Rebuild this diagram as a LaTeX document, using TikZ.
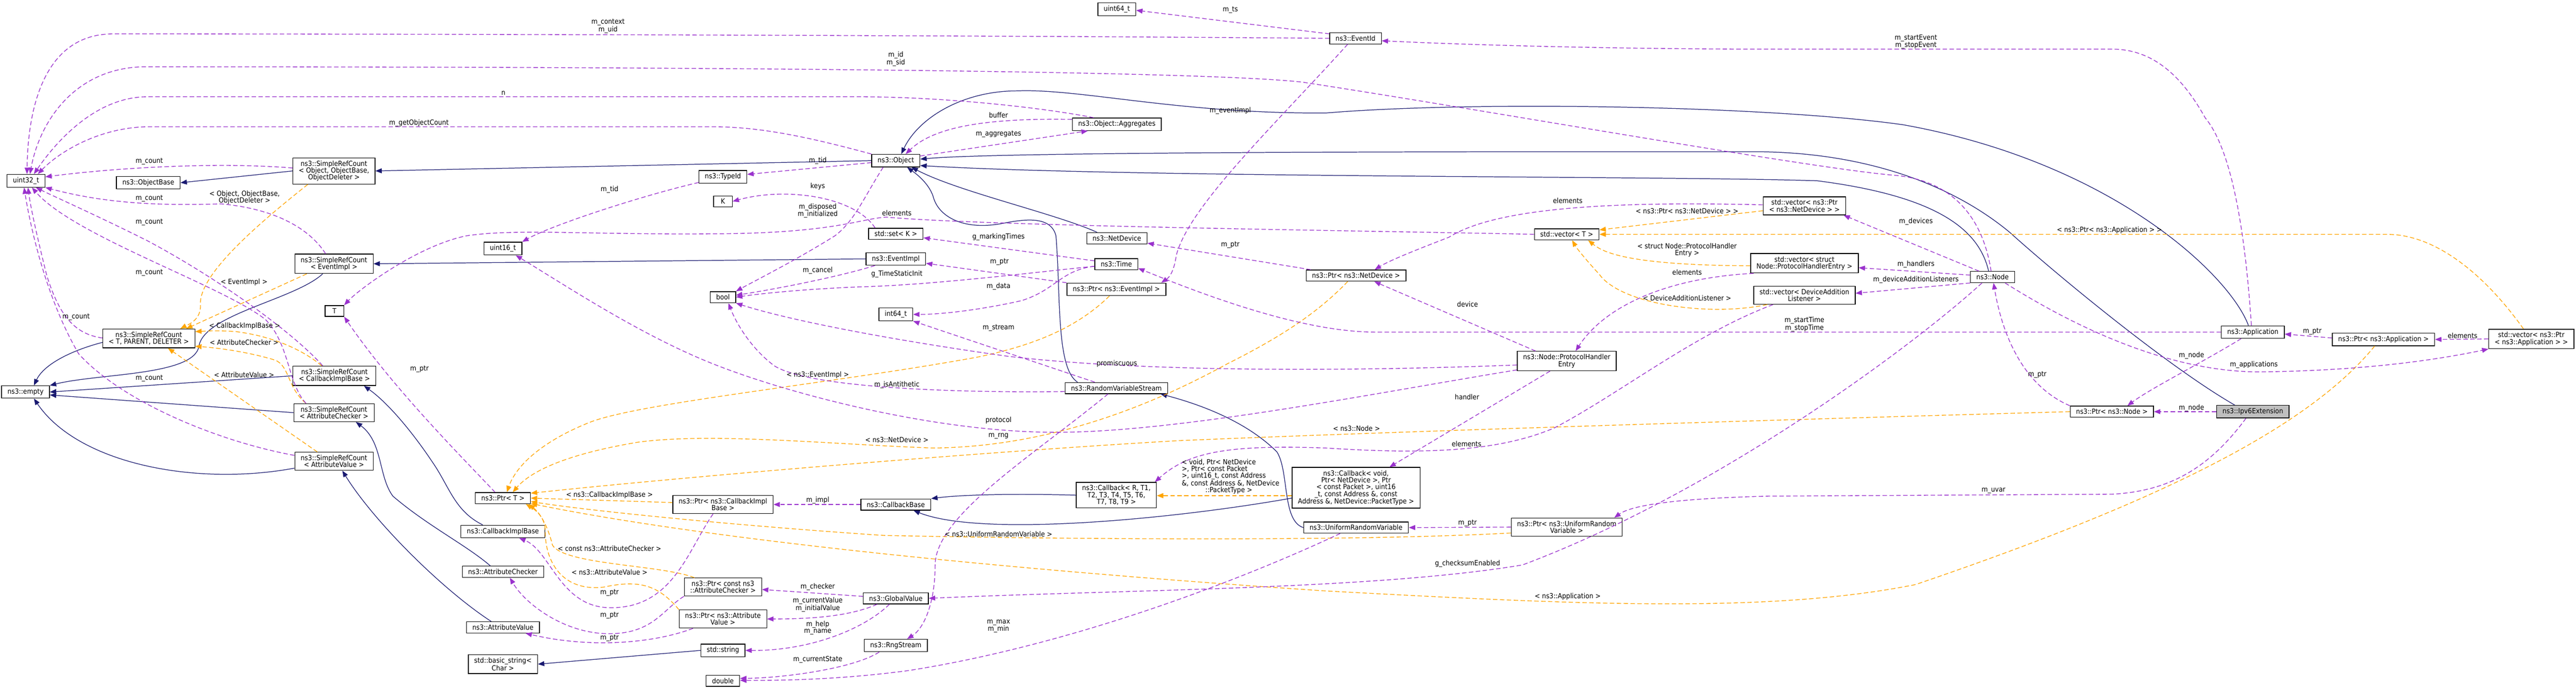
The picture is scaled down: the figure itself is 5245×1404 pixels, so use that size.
\documentclass[tikz,border=0pt]{standalone}
\usepackage{fontspec}
\setmainfont{DejaVu Sans Condensed}
\usepackage{tikz}
\usetikzlibrary{arrows.meta}
\usetikzlibrary{calc}
\definecolor{inhblue}{HTML}{191970}
\definecolor{usepurple}{HTML}{9A32CD}
\definecolor{tplorange}{HTML}{FFA500}
\definecolor{mainfill}{HTML}{BFBFBF}

\begin{document}
\begin{tikzpicture}[x=1pt,y=-1pt,font=\fontsize{14.4}{14}\selectfont]
		\tikzset{box/.style={shape=rectangle, draw=black, line width=1.4pt, fill=white, align=center, inner xsep=12pt, inner ysep=5.8pt, minimum width=38pt}}
		\tikzset{mainbox/.style={box, fill=mainfill}}
		\tikzset{lbl/.style={inner sep=0pt, align=center}}
		\tikzset{inh/.style={draw=inhblue, line width=1.3pt, -{Triangle[length=13pt,width=10pt]}}}
		\tikzset{use/.style={draw=usepurple, line width=1.4pt, dash pattern=on 9pt off 5pt, -{Triangle[length=13pt,width=10pt]}}}
		\tikzset{tpl/.style={draw=tplorange, line width=1.4pt, dash pattern=on 9pt off 5pt, -{Triangle[length=13pt,width=10pt]}}}
		\path[use as bounding box, fill=white] (0,0) rectangle (5245,1404);
		%classes
		\node[box] (u32) at (53,368) {uint32\_t};
		\node[box] (objbase) at (302,372) {ns3::ObjectBase};
		\node[box] (srcobj) at (680,348) {ns3::SimpleRefCount\\< Object, ObjectBase,\\ObjectDeleter >};
		\node[box] (srcev) at (680,537) {ns3::SimpleRefCount\\< EventImpl >};
		\node[box] (tT) at (681,633) {T};
		\node[box] (srctpd) at (303,689) {ns3::SimpleRefCount\\< T, PARENT, DELETER >};
		\node[box] (empty) at (52,798) {ns3::empty};
		\node[box] (srccb) at (681,765) {ns3::SimpleRefCount\\< CallbackImplBase >};
		\node[box] (srcac) at (680,840) {ns3::SimpleRefCount\\< AttributeChecker >};
		\node[box] (srcav) at (680,939) {ns3::SimpleRefCount\\< AttributeValue >};
		\node[box] (typeid) at (1472,360) {ns3::TypeId};
		\node[box] (kK) at (1472,410) {K};
		\node[box] (u16) at (1024,506) {uint16\_t};
		\node[box] (boolT) at (1472,605) {bool};
		\node[box] (ptrT) at (1024,1014) {ns3::Ptr< T >};
		\node[box] (cbimpl) at (1024,1082) {ns3::CallbackImplBase};
		\node[box] (attchk) at (1024,1164) {ns3::AttributeChecker};
		\node[box] (attval) at (1024,1277) {ns3::AttributeValue};
		\node[box] (bstr) at (1024,1352) {std::basic\_string<\\Char >};
		\node[box] (ptrcb) at (1472,1027) {ns3::Ptr< ns3::CallbackImpl\\Base >};
		\node[box] (ptrac) at (1472,1195) {ns3::Ptr< const ns3\\::AttributeChecker >};
		\node[box] (ptrav) at (1472,1260) {ns3::Ptr< ns3::Attribute\\Value >};
		\node[box] (stringT) at (1472,1324) {std::string};
		\node[box] (doubleT) at (1472,1386) {double};
		\node[box] (u64) at (2274,19) {uint64\_t};
		\node[box] (aggr) at (2274,253) {ns3::Object::Aggregates};
		\node[box] (object) at (1824,327) {ns3::Object};
		\node[box] (setK) at (1824,476) {std::set< K >};
		\node[box] (evimpl) at (1824,527) {ns3::EventImpl};
		\node[box] (i64) at (1824,640) {int64\_t};
		\node[box] (netdev) at (2274,485) {ns3::NetDevice};
		\node[box] (timeC) at (2273,538) {ns3::Time};
		\node[box] (ptrev) at (2273,589) {ns3::Ptr< ns3::EventImpl >};
		\node[box] (rvs) at (2273,790) {ns3::RandomVariableStream};
		\node[box] (cbbase) at (1824,1027) {ns3::CallbackBase};
		\node[box] (cbR) at (2273,1008) {ns3::Callback< R, T1,\\T2, T3, T4, T5, T6,\\T7, T8, T9 >};
		\node[box] (gval) at (1824,1218) {ns3::GlobalValue};
		\node[box] (rng) at (1824,1314) {ns3::RngStream};
		\node[box] (evid) at (2760,78) {ns3::EventId};
		\node[box] (vecT) at (3190,477) {std::vector< T >};
		\node[box] (ptrnd) at (2761,561) {ns3::Ptr< ns3::NetDevice >};
		\node[box] (phe) at (3190,735) {ns3::Node::ProtocolHandler\\Entry};
		\node[box] (cbvoid) at (2761,993) {ns3::Callback< void,\\Ptr< NetDevice >, Ptr\\< const Packet >, uint16\\\_t, const Address \&, const\\Address \&, NetDevice::PacketType >};
		\node[box] (urv) at (2761,1074) {ns3::UniformRandomVariable};
		\node[box] (ptrurv) at (3190,1073) {ns3::Ptr< ns3::UniformRandom\\Variable >};
		\node[box] (vecnd) at (3674,419) {std::vector< ns3::Ptr\\< ns3::NetDevice > >};
		\node[box] (vecphe) at (3674,536) {std::vector< struct\\Node::ProtocolHandlerEntry >};
		\node[box] (vecdal) at (3674,601) {std::vector< DeviceAddition\\Listener >};
		\node[box] (nodeC) at (4057,564) {ns3::Node};
		\node[box] (ptrnode) at (4300,838) {ns3::Ptr< ns3::Node >};
		\node[box] (app) at (4587,676) {ns3::Application};
		\node[box] (ptrapp) at (4853,691) {ns3::Ptr< ns3::Application >};
		\node[box] (vecapp) at (5154,690) {std::vector< ns3::Ptr\\< ns3::Application > >};
		\node[mainbox] (ipv6) at (4587,838) {ns3::Ipv6Extension};
		%inheritance
		\path (srcobj.west) edge[inh] (objbase.east);
		\path (object.west) edge[inh] (srcobj.east);
		\path (evimpl.west) edge[inh] (srcev.east);
		\draw[inh] ($(srctpd.west)+(0,8)$) .. controls (150,712) and (90,740) .. ($(empty.north)+(17,0)$);
		\draw[inh] ($(srcev.south)+(-23,0)$) .. controls (600,610) and (415,640) .. (405,705) .. controls (395,765) and (200,760) .. (empty.north east);
		\path (srccb.west) edge[inh] (empty.east);
		\path (srcac.west) edge[inh] ($(empty.east)+(0,6)$);
		\draw[inh] ($(srcav.west)+(0,14)$) .. controls (400,990) and (160,945) .. ($(empty.south)+(17,0)$);
		\draw[inh] ($(app.north)+(-9,0)$) .. controls (4540,560) and (4300,330) .. (3875,254) .. controls (3600,215) and (3000,205) .. (2700,230) .. controls (2400,232) and (2200,180) .. (2071,185) .. controls (1960,185) and (1870,240) .. ($(object.north)+(11,0)$);
		\draw[inh] ($(ipv6.north)+(-37,0)$) .. controls (4420,750) and (4200,570) .. (4092,473) .. controls (3980,380) and (3800,305) .. (3550,309) .. controls (2600,308) and (2000,312) .. ($(object.east)+(0,-3)$);
		\draw[inh] ($(nodeC.north)+(-8,0)$) .. controls (4030,470) and (3950,400) .. (3700,368) .. controls (3400,358) and (2300,362) .. ($(object.east)+(0,10)$);
		\draw[inh] ($(rvs.north west)+(26,0)$) .. controls (2150,750) and (2160,600) .. (2150,480) .. controls (2140,440) and (2090,445) .. (2040,455) .. controls (1960,470) and (1910,440) .. (1900,400) .. controls (1890,370) and (1860,350) .. ($(object.south)+(23,0)$);
		\draw[inh] ($(netdev.north west)+(22,0)$) .. controls (2150,435) and (1950,390) .. ($(object.south)+(32,0)$);
		\draw[inh] (urv.west) .. controls (2610,1060) and (2625,960) .. (2600,920) .. controls (2540,860) and (2450,825) .. ($(rvs.south east)+(-15,0)$);
		\draw[inh] (cbR.west) .. controls (2050,1004) and (1950,1008) .. (cbbase.north east);
		\draw[inh] ($(cbvoid.west)+(0,21)$) .. controls (2400,1055) and (2000,1095) .. ($(cbbase.south east)+(-36,0)$);
		\draw[inh] ($(cbimpl.north west)+(45,0)$) .. controls (925,1040) and (915,990) .. (880,940) .. controls (840,880) and (790,820) .. ($(srccb.south east)+(-25,0)$);
		\draw[inh] ($(attchk.north west)+(58,0)$) .. controls (950,1110) and (870,1070) .. (800,1010) .. controls (770,970) and (780,900) .. ($(srcac.south east)+(-38,0)$);
		\draw[inh] ($(attval.north west)+(51,0)$) .. controls (900,1200) and (760,1060) .. ($(srcav.south)+(17,0)$);
		\path (stringT.west) edge[inh] (bstr.east);
		%template instances
		\draw[tpl] ($(srcobj.south west)+(31,0)$) .. controls (520,460) and (405,560) .. (408,620) .. controls (410,650) and (385,660) .. ($(srctpd.north)+(64,0)$);
		\path ($(srcev.south west)+(25,0)$) edge[tpl] ($(srctpd.north)+(76,0)$);
		\draw[tpl] ($(srccb.north)+(-26,0)$) .. controls (620,715) and (560,685) .. (480,675) .. controls (440,672) and (420,674) .. ($(srctpd.east)+(0,-14)$);
		\draw[tpl] ($(srcac.north)+(-57,0)$) .. controls (585,790) and (590,745) .. (560,733) .. controls (500,715) and (440,708) .. ($(srctpd.south east)+(0,-4)$);
		\path ($(srcav.north)+(-34,0)$) edge[tpl] ($(srctpd.south)+(39,0)$);
		\draw[tpl] ($(ptrev.south)+(-14,0)$) .. controls (2200,660) and (2120,700) .. (1990,727) .. controls (1700,780) and (1300,820) .. (1200,860) .. controls (1100,900) and (1050,950) .. ($(ptrT.north)+(8,0)$);
		\draw[tpl] (ptrnode.west) .. controls (3500,858) and (2800,880) .. (2400,897) .. controls (2000,920) and (1400,970) .. ($(ptrT.east)+(0,-10)$);
		\draw[tpl] ($(ptrnd.south)+(-17,0)$) .. controls (2680,640) and (2600,690) .. (2500,740) .. controls (2300,850) and (2100,910) .. (1900,912) .. controls (1700,905) and (1450,880) .. (1300,900) .. controls (1150,925) and (1080,960) .. ($(ptrT.north)+(20,0)$);
		\path ($(ptrcb.west)+(0,-4)$) edge[tpl] (ptrT.east);
		\draw[tpl] ($(ptrac.north)+(-58,0)$) .. controls (1350,1150) and (1150,1150) .. (1125,1110) .. controls (1115,1070) and (1100,1045) .. ($(ptrT.south east)+(-4,0)$);
		\draw[tpl] (ptrav.north west) .. controls (1340,1190) and (1300,1180) .. (1230,1195) .. controls (1150,1205) and (1110,1150) .. (1110,1080) .. controls (1110,1050) and (1085,1035) .. ($(ptrT.south east)+(-10,0)$);
		\draw[tpl] ($(ptrurv.west)+(0,12)$) .. controls (2800,1100) and (2300,1100) .. (1800,1090) .. controls (1500,1070) and (1200,1040) .. ($(ptrT.east)+(0,7)$);
		\draw[tpl] ($(ptrapp.south)+(-18,0)$) .. controls (4700,870) and (4400,1020) .. (3900,1190) .. controls (3600,1250) and (3200,1230) .. (2700,1203) .. controls (2200,1170) and (1500,1110) .. ($(ptrT.east)+(0,11)$);
		\path ($(vecnd.west)+(0,10)$) edge[tpl] ($(vecT.east)+(0,-9)$);
		\draw[tpl] ($(vecphe.west)+(0,5)$) .. controls (3300,540) and (3260,510) .. ($(vecT.south east)+(-23,0)$);
		\draw[tpl] ($(vecdal.south west)+(28,0)$) .. controls (3480,645) and (3300,620) .. (3256,558) .. controls (3230,530) and (3210,505) .. ($(vecT.south)+(11,0)$);
		\draw[tpl] ($(vecapp.north)+(-16,0)$) .. controls (5060,560) and (4960,477) .. (4860,477) -- (vecT.east);
		\path ($(cbvoid.west)+(0,16)$) edge[tpl] ($(cbR.east)+(0,1)$);
		%members
		\draw[use] (evid.west) .. controls (2000,72) and (800,69) .. (230,69) .. controls (100,69) and (57,200) .. ($(u32.north)+(2,0)$);
		\draw[use] ($(nodeC.north)+(-3,0)$) .. controls (4040,460) and (3990,370) .. (3860,357) .. controls (3700,345) and (3000,220) .. (2650,167) .. controls (2450,145) and (1500,136) .. (290,136) .. controls (150,140) and (80,250) .. ($(u32.north)+(8,0)$);
		\draw[use] ($(aggr.north west)+(44,0)$) .. controls (2100,215) and (1900,197) .. (1750,197) -- (300,197) .. controls (200,197) and (120,280) .. ($(u32.north)+(16,0)$);
		\draw[use] (object.north west) .. controls (1650,280) and (1550,258) .. (1450,258) -- (300,258) .. controls (200,260) and (120,310) .. ($(u32.north)+(24,0)$);
		\draw[use] ($(srcobj.west)+(0,-6)$) .. controls (450,330) and (250,340) .. ($(u32.east)+(0,-8)$);
		\draw[use] ($(srcev.north)+(-17,0)$) .. controls (630,465) and (560,425) .. (450,415) .. controls (300,420) and (200,410) .. (u32.south east);
		\draw[use] ($(srccb.north)+(-24,0)$) .. controls (600,680) and (450,570) .. (300,490) .. controls (200,440) and (110,400) .. ($(u32.south)+(20,0)$);
		\draw[use] ($(srcac.north)+(-57,0)$) .. controls (585,780) and (590,700) .. (540,650) .. controls (450,580) and (150,480) .. ($(u32.south)+(12,0)$);
		\draw[use] ($(srctpd.west)+(0,-1)$) .. controls (150,680) and (120,640) .. (95,560) .. controls (75,480) and (62,420) .. ($(u32.south)+(4,0)$);
		\draw[use] ($(srcav.west)+(0,-12)$) .. controls (450,900) and (250,820) .. (160,720) .. controls (90,600) and (60,450) .. ($(u32.south)+(-4,0)$);
		\path ($(object.west)+(0,4)$) edge[use] ($(typeid.east)+(0,-5)$);
		\draw[use] ($(typeid.south west)+(0,-2)$) .. controls (1300,400) and (1120,460) .. (u16.north east);
		\draw[use] ($(setK.north west)+(14,0)$) .. controls (1740,400) and (1600,380) .. (kK.east);
		\draw[use] ($(object.south west)+(24,0)$) .. controls (1760,400) and (1740,450) .. (1700,480) .. controls (1620,530) and (1540,570) .. (boolT.north east);
		\draw[use] ($(evimpl.south west)+(19,0)$) .. controls (1720,560) and (1600,585) .. ($(boolT.east)+(0,-4)$);
		\draw[use] ($(timeC.west)+(0,4)$) .. controls (2100,555) and (1900,580) .. (1750,584) .. controls (1650,588) and (1560,596) .. (boolT.east);
		\path ($(timeC.west)+(0,-7)$) edge[use] ($(setK.east)+(0,8)$);
		\draw[use] ($(timeC.west)+(0,4)$) .. controls (2160,550) and (2150,590) .. (2080,612) .. controls (2000,630) and (1920,640) .. (i64.east);
		\path (ptrev.north west) edge[use] ($(evimpl.east)+(0,9)$);
		\path ($(rvs.north)+(-44,0)$) edge[use] (i64.south east);
		\draw[use] ($(rvs.west)+(0,7)$) .. controls (1950,800) and (1650,790) .. (1577,745) .. controls (1530,710) and (1500,660) .. ($(boolT.south)+(11,0)$);
		\draw[use] ($(phe.west)+(0,8)$) .. controls (2700,758) and (2300,755) .. (2050,725) .. controls (1800,690) and (1600,650) .. (boolT.south east);
		\draw[use] ($(phe.west)+(0,18)$) .. controls (2800,800) and (2400,880) .. (2150,880) .. controls (1900,880) and (1600,800) .. (1450,740) .. controls (1300,680) and (1150,580) .. ($(u16.south)+(26,0)$);
		\draw[use] ($(rvs.south)+(-17,0)$) .. controls (2100,930) and (1905,1050) .. (1904,1150) .. controls (1904,1230) and (1880,1280) .. ($(rng.north)+(23,0)$);
		\path (cbbase.west) edge[use] (ptrcb.east);
		\path ($(gval.west)+(0,-4)$) edge[use] ($(ptrac.east)+(0,5)$);
		\draw[use] ($(gval.south west)+(29,0)$) .. controls (1730,1255) and (1650,1260) .. (ptrav.east);
		\draw[use] ($(gval.south)+(-13,0)$) .. controls (1760,1280) and (1650,1325) .. (stringT.east);
		\draw[use] ($(urv.south west)+(75,0)$) .. controls (2550,1170) and (2200,1310) .. (1850,1365) .. controls (1700,1385) and (1580,1385) .. ($(doubleT.east)+(0,-1)$);
		\draw[use] ($(rng.south west)+(31,0)$) .. controls (1740,1360) and (1600,1380) .. ($(doubleT.east)+(0,-5)$);
		\draw[use] ($(ptrcb.south)+(-20,0)$) .. controls (1400,1120) and (1370,1240) .. (1240,1237) .. controls (1140,1235) and (1120,1120) .. ($(cbimpl.south east)+(-53,0)$);
		\draw[use] (ptrac.south west) .. controls (1350,1240) and (1330,1290) .. (1240,1290) .. controls (1150,1290) and (1070,1230) .. ($(attchk.south)+(14,0)$);
		\draw[use] ($(ptrav.south west)+(29,0)$) .. controls (1330,1310) and (1200,1320) .. ($(attval.south east)+(-29,0)$);
		\draw[use] ($(ptrT.north)+(-16,0)$) .. controls (940,930) and (800,790) .. (tT.south east);
		\draw[use] (vecT.west) .. controls (2800,470) and (2000,460) .. (1805,442) .. controls (1750,445) and (1700,475) .. (1450,476) .. controls (1200,478) and (1050,465) .. (950,480) .. controls (850,500) and (730,590) .. (tT.north east);
		\path ($(evid.north west)+(0,3)$) edge[use] ($(u64.east)+(0,2)$);
		\draw[use] ($(evid.south)+(-16,0)$) .. controls (2600,250) and (2420,420) .. (2395,520) .. controls (2390,555) and (2380,565) .. ($(ptrev.north east)+(-10,0)$);
		\draw[use] ($(app.north)+(-3,0)$) .. controls (4570,450) and (4540,300) .. (4490,240) .. controls (4440,150) and (4380,100) .. (4300,100) -- (3600,100) .. controls (3300,100) and (3000,92) .. ($(evid.east)+(0,5)$);
		\path ($(nodeC.north west)+(18,0)$) edge[use] ($(vecnd.south east)+(-5,0)$);
		\path ($(nodeC.west)+(0,-4)$) edge[use] ($(vecphe.east)+(0,9)$);
		\path (nodeC.south west) edge[use] ($(vecdal.east)+(0,-4)$);
		\draw[use] ($(vecnd.west)+(0,-2)$) .. controls (3300,410) and (3050,420) .. (2950,483) .. controls (2880,510) and (2830,530) .. ($(ptrnd.north)+(38,0)$);
		\draw[use] ($(vecphe.south west)+(7,0)$) .. controls (3400,565) and (3270,620) .. ($(phe.north)+(18,0)$);
		\draw[use] ($(vecdal.south west)+(40,0)$) .. controls (3450,680) and (3300,800) .. (3165,871) .. controls (3050,920) and (2900,925) .. (2700,912) .. controls (2500,905) and (2420,920) .. ($(cbR.north east)+(-4,0)$);
		\path ($(phe.south)+(-34,0)$) edge[use] ($(cbvoid.north)+(68,0)$);
		\path ($(phe.north west)+(38,0)$) edge[use] ($(ptrnd.south)+(37,0)$);
		\path ($(ptrnd.north west)+(10,0)$) edge[use] ($(netdev.east)+(0,10)$);
		\path (ptrurv.west) edge[use] (urv.east);
		\draw[use] ($(ipv6.south)+(-14,0)$) .. controls (4500,950) and (4420,1000) .. (4300,1006) -- (3600,1010) .. controls (3400,1015) and (3320,1030) .. ($(ptrurv.north east)+(-17,0)$);
		\draw[use] ($(app.south west)+(41,0)$) .. controls (4480,740) and (4380,790) .. ($(ptrnode.north east)+(-54,0)$);
		\path (ipv6.west) edge[use] (ptrnode.east);
		\draw[use] (ptrnode.north west) .. controls (4130,790) and (4080,700) .. ($(nodeC.south)+(2,0)$);
		\draw[use] ($(nodeC.south east)+(-20,0)$) .. controls (4200,650) and (4400,757) .. (4600,757) .. controls (4800,755) and (4950,735) .. (vecapp.south west);
		\draw[use] ($(nodeC.south west)+(24,0)$) .. controls (3900,700) and (3500,1000) .. (3100,1150) .. controls (2800,1200) and (2300,1200) .. (gval.east);
		\draw[use] (app.west) -- (2800,676) .. controls (2650,676) and (2450,600) .. ($(timeC.east)+(0,8)$);
		\path ($(object.north east)+(0,4)$) edge[use] ($(aggr.south west)+(32,0)$);
		\draw[use] ($(aggr.west)+(0,-10)$) .. controls (2000,240) and (1900,260) .. ($(object.north)+(20,0)$);
		\path ($(ptrapp.west)+(0,-3)$) edge[use] ($(app.east)+(0,4)$);
		\path (vecapp.west) edge[use] (ptrapp.east);
		%labels
		\node[lbl] (lctx) at (1238,53) {m\_context\\m\_uid};
		\node[lbl] (lid) at (1824,120) {m\_id\\m\_sid};
		\node[lbl] (ln) at (1025,189) {n};
		\node[lbl] (lgoc) at (853,251) {m\_getObjectCount};
		\node[lbl] (lc1) at (304,329) {m\_count};
		\node[lbl] (lc2) at (304,404) {m\_count};
		\node[lbl] (lc3) at (304,452) {m\_count};
		\node[lbl] (lc4) at (304,555) {m\_count};
		\node[lbl] (lc5) at (155,645) {m\_count};
		\node[lbl] (lc6) at (304,770) {m\_count};
		\node[lbl] (lsobj) at (498,402) {< Object, ObjectBase,\\ObjectDeleter >};
		\node[lbl] (lsev) at (497,575) {< EventImpl >};
		\node[lbl] (lscb) at (498,664) {< CallbackImplBase >};
		\node[lbl] (lsac) at (497,697) {< AttributeChecker >};
		\node[lbl] (lsav) at (497,763) {< AttributeValue >};
		\node[lbl] (ltid1) at (1665,327) {m\_tid};
		\node[lbl] (ltid2) at (1241,386) {m\_tid};
		\node[lbl] (lkeys) at (1665,379) {keys};
		\node[lbl] (ldisp) at (1665,429) {m\_disposed\\m\_initialized};
		\node[lbl] (lcancel) at (1665,551) {m\_cancel};
		\node[lbl] (lelT) at (1826,434) {elements};
		\node[lbl] (lmark) at (2033,482) {g\_markingTimes};
		\node[lbl] (lptrev) at (2035,533) {m\_ptr};
		\node[lbl] (ltsi) at (1826,558) {g\_TimeStaticInit};
		\node[lbl] (ldata) at (2033,583) {m\_data};
		\node[lbl] (lstream) at (2033,667) {m\_stream};
		\node[lbl] (lbuf) at (2033,234) {buffer};
		\node[lbl] (laggr) at (2033,273) {m\_aggregates};
		\node[lbl] (lts) at (2505,20) {m\_ts};
		\node[lbl] (levimpl) at (2505,225) {m\_eventImpl};
		\node[lbl] (lptrnd) at (2505,499) {m\_ptr};
		\node[lbl] (lprom) at (2274,740) {promiscuous};
		\node[lbl] (lanti) at (1826,784) {m\_isAntithetic};
		\node[lbl] (lproto) at (2033,856) {protocol};
		\node[lbl] (lsnd) at (1826,895) {< ns3::NetDevice >};
		\node[lbl] (lrng) at (2033,888) {m\_rng};
		\node[lbl] (lsevi) at (1665,763) {< ns3::EventImpl >};
		\node[lbl, align=left, anchor=north west] (lscbv) at (2406,934) {< void, Ptr< NetDevice\\>, Ptr< const Packet\\>, uint16\_t, const Address\\\&, const Address \&, NetDevice\\\hspace*{48pt}::PacketType >};
		\node[lbl] (lsurv) at (2033,1087) {< ns3::UniformRandomVariable >};
		\node[lbl] (lmax) at (2033,1275) {m\_max\\m\_min};
		\node[lbl] (lscbi) at (1241,1008) {< ns3::CallbackImplBase >};
		\node[lbl] (limpl) at (1665,1018) {m\_impl};
		\node[lbl] (lsac2) at (1241,1117) {< const ns3::AttributeChecker >};
		\node[lbl] (lsav2) at (1241,1165) {< ns3::AttributeValue >};
		\node[lbl] (lp1) at (1241,1207) {m\_ptr};
		\node[lbl] (lp2) at (1241,1253) {m\_ptr};
		\node[lbl] (lp3) at (1241,1299) {m\_ptr};
		\node[lbl] (lchk) at (1665,1195) {m\_checker};
		\node[lbl] (lcur) at (1665,1231) {m\_currentValue\\m\_initialValue};
		\node[lbl] (lhelp) at (1665,1278) {m\_help\\m\_name};
		\node[lbl] (lstate) at (1665,1343) {m\_currentState};
		\node[lbl] (lpT) at (854,751) {m\_ptr};
		\node[lbl] (lelnd) at (3192,408) {elements};
		\node[lbl] (lsvnd) at (3435,429) {< ns3::Ptr< ns3::NetDevice > >};
		\node[lbl] (lsvphe) at (3435,509) {< struct Node::ProtocolHandler\\Entry >};
		\node[lbl] (lelphe) at (3435,554) {elements};
		\node[lbl] (lsvdal) at (3435,607) {< DeviceAdditionListener >};
		\node[lbl] (ldev) at (2988,619) {device};
		\node[lbl] (lhand) at (2987,808) {handler};
		\node[lbl] (lsnode) at (2762,872) {< ns3::Node >};
		\node[lbl] (lelcb) at (2986,904) {elements};
		\node[lbl] (lpurv) at (2988,1065) {m\_ptr};
		\node[lbl] (lcks) at (2988,1148) {g\_checksumEnabled};
		\node[lbl] (lsapp) at (3192,1214) {< ns3::Application >};
		\node[lbl] (lstev) at (3901,85) {m\_startEvent\\m\_stopEvent};
		\node[lbl] (ldevs) at (3901,451) {m\_devices};
		\node[lbl] (lsvapp) at (4295,469) {< ns3::Ptr< ns3::Application > >};
		\node[lbl] (lhands) at (3901,538) {m\_handlers};
		\node[lbl] (ldal) at (3901,570) {m\_deviceAdditionListeners};
		\node[lbl] (lsttime) at (3674,660) {m\_startTime\\m\_stopTime};
		\node[lbl] (lpnode) at (4148,763) {m\_ptr};
		\node[lbl] (luvar) at (4059,999) {m\_uvar};
		\node[lbl] (lpapp) at (4708,675) {m\_ptr};
		\node[lbl] (lelapp) at (5014,683) {elements};
		\node[lbl] (lnode1) at (4462,724) {m\_node};
		\node[lbl] (lnode2) at (4462,831) {m\_node};
		\node[lbl] (lapps) at (4589,743) {m\_applications};
\end{tikzpicture}
\end{document}
